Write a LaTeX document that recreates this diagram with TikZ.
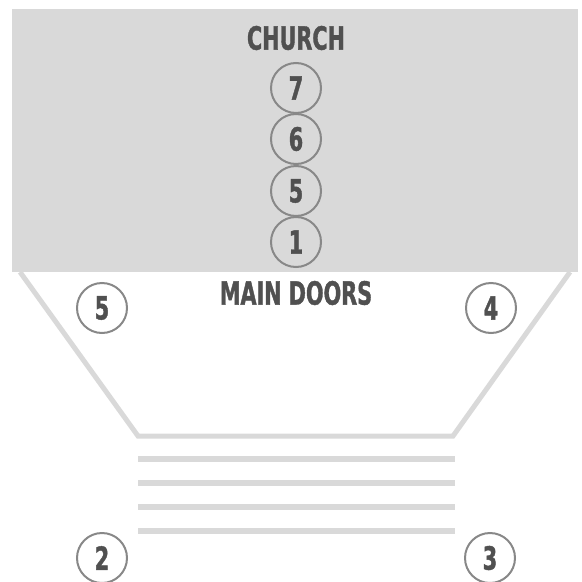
\documentclass[tikz,border=0pt]{standalone}
\usepackage{fontspec}
\setmainfont{DejaVu Sans Condensed}[BoldFont={DejaVu Sans Condensed Bold},BoldFeatures={FakeBold=1.2},FakeStretch=0.72]

\definecolor{floorgrey}{RGB}{217,217,217}
\definecolor{ringgrey}{RGB}{136,136,136}
\definecolor{textgrey}{RGB}{80,80,80}

\tikzset{every picture/.style={line width=0.75pt},
  spot/.style={draw=ringgrey,line width=1.5pt,circle,minimum size=37.5pt,inner sep=0pt,
    text=textgrey,font=\bfseries\fontsize{24}{24}\selectfont},
  title/.style={inner sep=0pt,text=textgrey,font=\bfseries\fontsize{24}{24}\selectfont},
  stair/.style={color=floorgrey,line width=4.1pt}}

\begin{document}
\begin{tikzpicture}[x=0.75pt,y=0.75pt,yscale=-1,xscale=1]
\useasboundingbox (0,0) rectangle (582,582);

%Shape: Rectangle [church]
\fill [color=floorgrey] (12,9) rectangle (578,272);
%Straight Lines [porch]
\draw [color=floorgrey,line width=3.75pt] (20,272) -- (138,436) -- (453,436) -- (570,272);
%Straight Lines [steps]
\foreach \y in {459,483,507,531}
  \draw [stair] (138,\y) -- (455,\y);

% Text Node
\node (church) [title] at (296,38) {CHURCH};
% Text Node
\node (doors) [title] at (296,293) {MAIN DOORS};

% Spots inside
\node (s7) [spot] at (296,88) {7};
\node (s6) [spot] at (296,139) {6};
\node (s5) [spot] at (296,191) {5};
\node (s1) [spot] at (296,242) {1};
% Spots outside
\node (p5) [spot] at (102,308) {5};
\node (p4) [spot] at (491,308) {4};
\node (p2) [spot] at (102,558) {2};
\node (p3) [spot] at (490,558) {3};

\end{tikzpicture}
\end{document}
